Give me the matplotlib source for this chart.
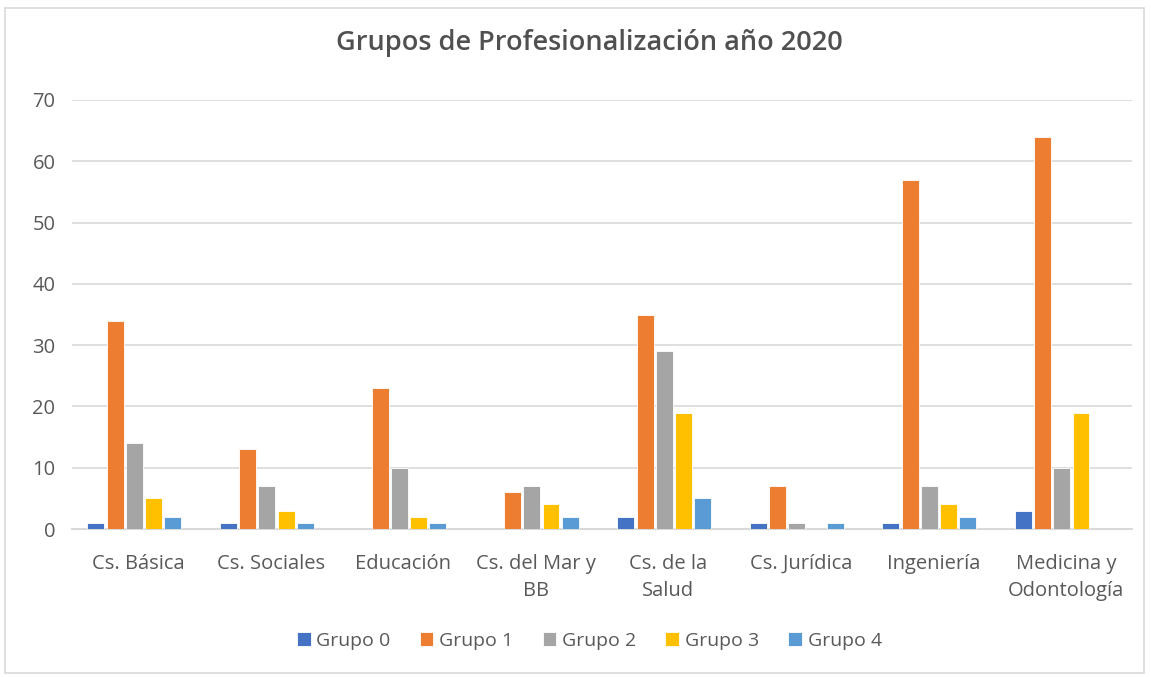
import matplotlib
matplotlib.use("Agg")
import matplotlib.pyplot as plt
import numpy as np
from matplotlib.patches import Rectangle

categories = ["Cs. Básica", "Cs. Sociales", "Educación", "Cs. del Mar y\nBB", "Cs. de la\nSalud",
              "Cs. Jurídica", "Ingeniería", "Medicina y\nOdontología"]
series_names = ["Grupo 0", "Grupo 1", "Grupo 2", "Grupo 3", "Grupo 4"]
grupo0 = [1, 1, 0, 0, 2, 1, 1, 3]
grupo1 = [34, 13, 23, 6, 35, 7, 57, 64]
grupo2 = [14, 7, 10, 7, 29, 1, 7, 10]
grupo3 = [5, 3, 2, 4, 19, 0, 4, 19]
grupo4 = [2, 1, 1, 2, 5, 1, 2, 0]
series = [grupo0, grupo1, grupo2, grupo3, grupo4]
colors = ["#4472C4", "#ED7D31", "#A5A5A5", "#FFC000", "#5B9BD5"]
yticks = [0, 10, 20, 30, 40, 50, 60, 70]

plt.rcParams['font.family'] = ['Open Sans', 'DejaVu Sans']
text_color = "#595959"

fig = plt.figure(figsize=(11.51, 6.77), dpi=100)
ax = fig.add_axes([0.0626, 0.2186, 0.9209, 0.6337])

x = np.arange(len(categories))
slot = 0.145
bw = 0.128
for i, (name, vals, c) in enumerate(zip(series_names, series, colors)):
    ax.bar(x + (i - 2) * slot - 0.03, vals, width=bw, color=c, label=name, zorder=3,
           edgecolor="white", linewidth=0.6)

ax.set_xlim(-0.5, len(categories) - 0.5)
ax.set_ylim(0, 70)
ax.set_yticks(yticks)
ax.set_yticklabels([str(v) for v in yticks])
ax.set_xticks(x)
ax.set_xticklabels(categories, linespacing=1.45)
ax.yaxis.grid(True, color="#D9D9D9", linewidth=1.2, zorder=0)
for s in ["top", "right", "left"]:
    ax.spines[s].set_visible(False)
ax.spines["bottom"].set_color("#D9D9D9")
ax.spines["bottom"].set_linewidth(1.5)
ax.tick_params(axis="both", length=0, labelsize=14.5, colors=text_color)
ax.tick_params(axis="x", pad=18)
ax.tick_params(axis="y", pad=12)

fig.text(0.512, 0.937, "Grupos de Profesionalización año 2020", ha="center", va="center",
         fontsize=19.5, fontweight="semibold", color="#505050")

ax.legend(loc="center", bbox_to_anchor=(0.488, -0.261), ncol=5, frameon=False,
          fontsize=14, labelcolor=text_color, handlelength=0.7, handleheight=0.7,
          handletextpad=0.3, columnspacing=1.5)

fig.patches.append(Rectangle((0.004, 0.006), 0.99, 0.982, transform=fig.transFigure,
                             fill=False, edgecolor="#D9D9D9", linewidth=1.2))

fig.savefig("out.png", dpi=100, facecolor="white")
